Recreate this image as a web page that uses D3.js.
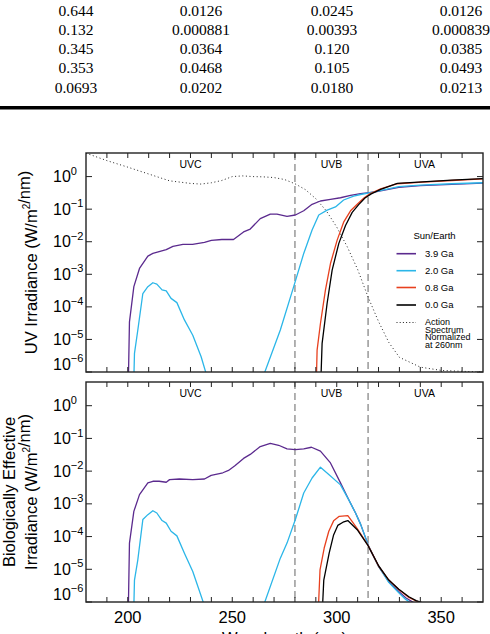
<!DOCTYPE html>
<html>
<head>
<meta charset="utf-8">
<script src="https://cdn.jsdelivr.net/npm/d3@7"></script>
<style>
  body { margin: 0; background: #fff; }
  svg { display: block; }
</style>
</head>
<body>
<svg id="chart" width="490" height="634"></svg>
<script>
// ---- table above the figure ----
let tableRows = [
    ["0.644", "0.0126", "0.0245", "0.0126"],
    ["0.132", "0.000881", "0.00393", "0.000839"],
    ["0.345", "0.0364", "0.120", "0.0385"],
    ["0.353", "0.0468", "0.105", "0.0493"],
    ["0.0693", "0.0202", "0.0180", "0.0213"]
];

// ---- axes ----
let xTicksMajor = [200, 250, 300, 350];
let xTicksMinor = [190, 200, 210, 220, 230, 240, 250, 260, 270, 280, 290, 300, 310, 320, 330, 340, 350, 360];
let yExponents = [0, -1, -2, -3, -4, -5, -6];
let bandEdges = [280, 315];
let bands = [
    {name: "UVC", lo: 180, hi: 280},
    {name: "UVB", lo: 280, hi: 315},
    {name: "UVA", lo: 315, hi: 369}
];

// ---- top panel: surface UV irradiance (W/m2/nm) ----
let irrWl39 = [199.8, 200.8, 202.9, 205.6, 209.6, 212, 215, 218.4, 221.6, 226.4, 231, 236.7, 240, 245, 250.6, 255.4, 258.6, 263.4, 268.2, 271.4, 276.2, 280.2, 284.2, 288.2, 292.2, 297, 301.8, 306.6, 311.4, 318.5, 329.7, 340, 355, 370];
let irr39 = [1e-8, 3.47e-5, 4.17e-4, 1.51e-3, 3.63e-3, 4.37e-3, 5.0e-3, 5.75e-3, 7.24e-3, 8.32e-3, 8.32e-3, 9.55e-3, 1.10e-2, 1.17e-2, 1.17e-2, 2.0e-2, 2.45e-2, 5.13e-2, 7.08e-2, 7.08e-2, 6.03e-2, 6.61e-2, 8.91e-2, 0.141, 0.178, 0.200, 0.224, 0.263, 0.302, 0.339, 0.468, 0.525, 0.575, 0.631];

let irrWl20 = [202.2, 203.2, 204.8, 207.2, 209.6, 212, 213.9, 216.4, 218.4, 220.7, 223.5, 227.1, 231.1, 235.1, 237.5, 238.5, 264.5, 265.3, 273, 279.4, 284.2, 288.2, 291.4, 295.4, 299.4, 303.3, 308.1, 311.4, 318.5, 329.7, 340, 355, 370];
let irr20 = [1e-8, 3.72e-6, 1.95e-5, 2.57e-4, 4.17e-4, 5.50e-4, 5.01e-4, 3.31e-4, 3.09e-4, 1.82e-4, 1.35e-4, 3.98e-5, 1.35e-5, 2.95e-6, 8.9e-7, 1e-8, 1e-8, 8.9e-7, 1.95e-5, 4.17e-4, 4.37e-3, 2.29e-2, 6.61e-2, 9.33e-2, 0.117, 0.191, 0.251, 0.282, 0.347, 0.490, 0.550, 0.603, 0.646];

let irrWl08 = [289.6, 290.6, 292.2, 294.6, 297, 300.2, 303.3, 306.6, 309.8, 313, 316, 321, 329, 341, 355, 370];
let irr08 = [1e-8, 4.68e-6, 3.09e-5, 3.31e-4, 2.14e-3, 1.12e-2, 3.98e-2, 8.91e-2, 0.141, 0.219, 0.302, 0.417, 0.603, 0.676, 0.759, 0.851];

let irrWl00 = [291.5, 293, 295.4, 297.8, 301, 304.2, 307.4, 310.5, 313.5, 316.5, 321, 329, 341, 355, 370];
let irr00 = [1e-8, 7.59e-6, 1.29e-4, 1.35e-3, 8.91e-3, 3.16e-2, 7.94e-2, 0.138, 0.219, 0.295, 0.407, 0.617, 0.692, 0.776, 0.871];

// action spectrum, normalized at 260 nm
let actionWl = [180, 190, 200, 210, 220, 230, 235, 240, 245, 250, 255, 260, 265, 270, 275, 280, 285, 290, 295, 300, 305, 310, 315, 320, 325, 330, 340, 350, 360, 370];
let action = [5.25, 3.09, 1.95, 1.20, 0.741, 0.617, 0.589, 0.646, 0.759, 1.0, 1.05, 1.0, 0.98, 0.933, 0.813, 0.603, 0.398, 0.209, 8.91e-2, 2.82e-2, 7.08e-3, 1.41e-3, 2.0e-4, 3.55e-5, 7.94e-6, 2.82e-6, 1.41e-6, 1.12e-6, 1.05e-6, 1.0e-6];

// ---- bottom panel: biologically effective irradiance ----
let bioWl39 = [199.8, 200.8, 202.9, 205.6, 209.6, 212, 215, 218.4, 220, 224.7, 231.1, 236.7, 239.9, 245.5, 248.2, 251.4, 255.4, 258.6, 263.4, 268.2, 272.2, 276.2, 280.2, 284.2, 287.9, 292.2, 297, 301.8, 305.7, 309, 311.4, 315.3, 320.1, 324.9, 329.7, 333, 336.9, 340];
let bio39 = [1e-8, 6.31e-5, 5.89e-4, 1.91e-3, 4.37e-3, 4.90e-3, 4.90e-3, 4.57e-3, 5.50e-3, 5.75e-3, 5.50e-3, 5.75e-3, 7.41e-3, 8.91e-3, 1.05e-2, 1.48e-2, 2.45e-2, 3.24e-2, 5.62e-2, 7.08e-2, 6.17e-2, 4.79e-2, 4.57e-2, 4.79e-2, 5.37e-2, 4.07e-2, 1.78e-2, 4.37e-3, 1.35e-3, 5.25e-4, 2.40e-4, 5.01e-5, 1.20e-5, 4.17e-6, 2.09e-6, 1.35e-6, 9.5e-7, 1e-8];

let bioWl20 = [202.2, 203.2, 204.8, 207.2, 209.6, 212, 213.9, 216.4, 218.4, 220.7, 223.5, 227.1, 231.1, 236.2, 237, 264.5, 265.3, 273, 276.2, 280.2, 284.2, 288.2, 292.2, 296.2, 301.8, 305.7, 309, 311.4, 315.3, 320.1, 324.9, 329.7, 333, 336, 340];
let bio20 = [1e-8, 4.68e-6, 1.95e-5, 3.31e-4, 4.68e-4, 6.17e-4, 5.25e-4, 3.09e-4, 2.57e-4, 1.45e-4, 1.05e-4, 3.09e-5, 8.51e-6, 9.5e-7, 1e-8, 1e-8, 8.9e-7, 2.19e-5, 6.31e-5, 3.31e-4, 2.14e-3, 6.17e-3, 1.32e-2, 7.94e-3, 3.80e-3, 1.35e-3, 5.25e-4, 2.40e-4, 5.01e-5, 1.20e-5, 3.98e-6, 1.91e-6, 1.20e-6, 8.9e-7, 1e-8];

let bioWl08 = [290, 292, 294, 296.2, 298.5, 301.2, 305.3, 307.5, 309.8, 315, 320.1, 324.9, 329.7, 334.5, 338, 342.3, 346];
let bio08 = [1e-8, 9.55e-6, 4.47e-5, 1.45e-4, 3.02e-4, 4.17e-4, 4.37e-4, 2.82e-4, 1.74e-4, 5.37e-5, 1.23e-5, 4.68e-6, 2.40e-6, 1.38e-6, 1.07e-6, 8.9e-7, 1e-8];

let bioWl00 = [291.8, 293.8, 296.4, 298.5, 300.5, 303, 305.3, 309.8, 315, 320.1, 324.9, 329.7, 334.5, 338, 342.3, 346];
let bio00 = [1e-8, 4.68e-6, 3.16e-5, 1.12e-4, 2.19e-4, 2.75e-4, 3.09e-4, 1.62e-4, 5.25e-5, 1.26e-5, 4.68e-6, 2.45e-6, 1.45e-6, 1.10e-6, 8.9e-7, 1e-8];

// legend entries
let seriesNames = ["3.9 Ga", "2.0 Ga", "0.8 Ga", "0.0 Ga"];
let seriesColors = ["#5b2a8e", "#2bb6e8", "#e8401e", "#000000"];
let actionLegendLines = ["Action", "Spectrum", "Normalized", "at 260nm"];

let svg = d3.select("#chart");
let fontSans = "'Liberation Sans', Arial, Helvetica, sans-serif";

// Table
let colX = [76, 201, 332, 461];
tableRows.forEach(function(row, i) {
    row.forEach(function(cell, j) {
        svg.append("text")
            .attr("x", colX[j])
            .attr("y", 15.5 + i * 19.3)
            .attr("text-anchor", "middle")
            .attr("font-family", "'Liberation Serif', 'Times New Roman', serif")
            .attr("font-size", 15.5)
            .text(cell);
    });
});
svg.append("rect")
    .attr("x", 0).attr("y", 106)
    .attr("width", 490).attr("height", 3.5)
    .attr("fill", "#000");

// Shared x scale
let xScale = d3.scaleLinear().domain([180, 370]).range([86, 483]);

function drawPanel(id, top, bottom, series, withAction) {
    let yScale = d3.scaleLog().domain([1e-6, 5.3]).range([bottom, top]);
    let g = svg.append("g").attr("class", "panel-" + id);

    g.append("clipPath").attr("id", "clip-" + id)
        .append("rect")
        .attr("x", xScale.range()[0]).attr("y", top)
        .attr("width", xScale.range()[1] - xScale.range()[0])
        .attr("height", bottom - top);

    // band dividers
    g.selectAll(".band-line").data(bandEdges).enter().append("line")
        .attr("x1", d => xScale(d)).attr("x2", d => xScale(d))
        .attr("y1", top).attr("y2", bottom)
        .attr("stroke", "#888").attr("stroke-width", 1.3)
        .attr("stroke-dasharray", "7,4");

    g.selectAll(".band-label").data(bands).enter().append("text")
        .attr("x", d => xScale((d.lo + d.hi) / 2))
        .attr("y", top + 15)
        .attr("text-anchor", "middle")
        .attr("font-family", fontSans)
        .attr("font-size", 10.5)
        .text(d => d.name);

    let line = d3.line()
        .x(d => xScale(d[0]))
        .y(d => yScale(d[1]));

    let curves = g.append("g").attr("clip-path", "url(#clip-" + id + ")");

    if (withAction) {
        curves.append("path")
            .datum(d3.zip(actionWl, action))
            .attr("d", line)
            .attr("fill", "none")
            .attr("stroke", "#222")
            .attr("stroke-width", 1)
            .attr("stroke-dasharray", "1,2.6");
    }

    series.forEach(function(s, i) {
        curves.append("path")
            .datum(d3.zip(s.wl, s.val))
            .attr("d", line)
            .attr("fill", "none")
            .attr("stroke", seriesColors[i])
            .attr("stroke-width", 1.3)
            .attr("stroke-linejoin", "round");
    });

    // ticks on all four sides
    xTicksMinor.forEach(function(t) {
        g.append("line").attr("x1", xScale(t)).attr("x2", xScale(t))
            .attr("y1", bottom).attr("y2", bottom - 5)
            .attr("stroke", "#222").attr("stroke-width", 1);
        g.append("line").attr("x1", xScale(t)).attr("x2", xScale(t))
            .attr("y1", top).attr("y2", top + 5)
            .attr("stroke", "#222").attr("stroke-width", 1);
    });
    yExponents.forEach(function(e) {
        let y = yScale(Math.pow(10, e));
        g.append("line").attr("x1", 86).attr("x2", 92)
            .attr("y1", y).attr("y2", y)
            .attr("stroke", "#222").attr("stroke-width", 1);
        g.append("line").attr("x1", 483).attr("x2", 477)
            .attr("y1", y).attr("y2", y)
            .attr("stroke", "#222").attr("stroke-width", 1);

        // keep the lowest label inside the panel
        let yl = (e === -6) ? y - 8 : y;
        let lab = g.append("text")
            .attr("x", 53)
            .attr("y", yl + 5.6)
            .attr("font-family", fontSans)
            .attr("font-size", 16);
        lab.append("tspan").text("10");
        lab.append("tspan")
            .attr("font-size", 11)
            .attr("dy", -7.5)
            .text(e === 0 ? "0" : "\u2212" + Math.abs(e));
    });

    // frame
    g.append("rect")
        .attr("x", 86).attr("y", top)
        .attr("width", 483 - 86).attr("height", bottom - top)
        .attr("fill", "none")
        .attr("stroke", "#222")
        .attr("stroke-width", 1.4);

    return yScale;
}

drawPanel("top", 153, 372, [
    {wl: irrWl39, val: irr39},
    {wl: irrWl20, val: irr20},
    {wl: irrWl08, val: irr08},
    {wl: irrWl00, val: irr00}
], true);

drawPanel("bottom", 382, 602, [
    {wl: bioWl39, val: bio39},
    {wl: bioWl20, val: bio20},
    {wl: bioWl08, val: bio08},
    {wl: bioWl00, val: bio00}
], false);

// x tick labels (bottom panel only)
svg.selectAll(".x-label").data(xTicksMajor).enter().append("text")
    .attr("x", d => xScale(d))
    .attr("y", 623)
    .attr("text-anchor", "middle")
    .attr("font-family", fontSans)
    .attr("font-size", 16.5)
    .text(d => d);

// x title, mostly below the visible area as in the original
svg.append("text")
    .attr("x", xScale(275))
    .attr("y", 644)
    .attr("text-anchor", "middle")
    .attr("font-family", fontSans)
    .attr("font-size", 16.5)
    .text("Wavelength (nm)");

// y axis titles
function yTitle(lines, cy) {
    let baseX = 37;
    lines.forEach(function(parts, i) {
        let x = baseX - (lines.length - 1 - i) * 22;
        let t = svg.append("text")
            .attr("transform", `translate(${x}, ${cy}) rotate(-90)`)
            .attr("text-anchor", "middle")
            .attr("font-family", fontSans)
            .attr("font-size", 16.5);
        parts.forEach(function(p) {
            if (p.sup) {
                t.append("tspan").attr("font-size", 10).attr("dy", -7).text(p.sup);
                t.append("tspan").attr("dy", 7).text("");
            } else {
                t.append("tspan").text(p.text);
            }
        });
    });
}
yTitle([[{text: "UV Irradiance (W/m"}, {sup: "2"}, {text: "/nm)"}]], 262.5);
yTitle([[{text: "Biologically Effective"}], [{text: "Irradiance (W/m"}, {sup: "2"}, {text: "/nm)"}]], 492);

// legend
let legend = svg.append("g").attr("class", "legend");
legend.append("text")
    .attr("x", 434.5).attr("y", 239)
    .attr("text-anchor", "middle")
    .attr("font-family", fontSans)
    .attr("font-size", 9.5)
    .text("Sun/Earth");
let legendY = [253.7, 270.7, 287.5, 305];
seriesNames.forEach(function(name, i) {
    legend.append("line")
        .attr("x1", 396.5).attr("x2", 416)
        .attr("y1", legendY[i]).attr("y2", legendY[i])
        .attr("stroke", seriesColors[i]).attr("stroke-width", 1.6);
    legend.append("text")
        .attr("x", 425).attr("y", legendY[i] + 3.4)
        .attr("font-family", fontSans)
        .attr("font-size", 9.5)
        .text(name);
});
legend.append("line")
    .attr("x1", 396.5).attr("x2", 416)
    .attr("y1", 322.5).attr("y2", 322.5)
    .attr("stroke", "#222").attr("stroke-width", 1)
    .attr("stroke-dasharray", "1,2.2");
actionLegendLines.forEach(function(s, i) {
    legend.append("text")
        .attr("x", 425).attr("y", 325.4 + i * 7.5)
        .attr("font-family", fontSans)
        .attr("font-size", 9)
        .text(s);
});
</script>
</body>
</html>
